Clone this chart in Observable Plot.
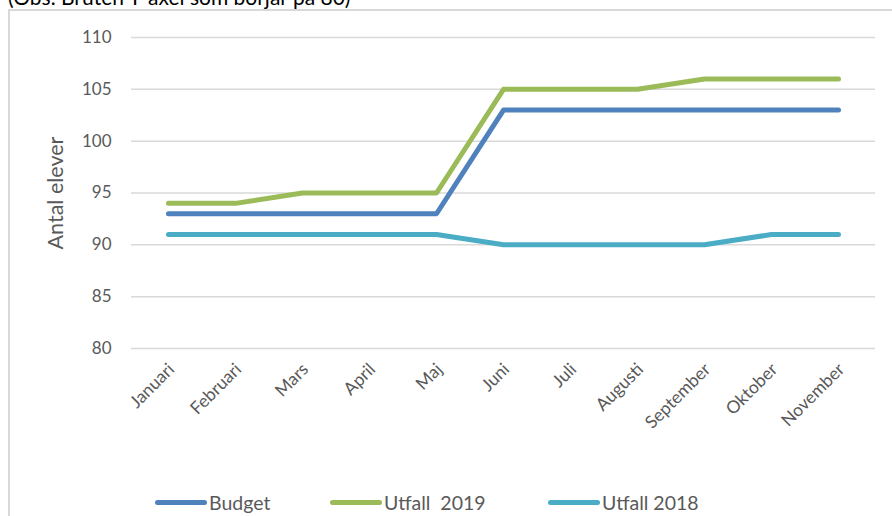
<!DOCTYPE html>
<html>
<head>
<meta charset="utf-8">
<script src="https://cdn.jsdelivr.net/npm/d3@7"></script>
<script src="https://cdn.jsdelivr.net/npm/@observablehq/plot@0.6"></script>
<style>
  html, body { margin: 0; padding: 0; background: #fff; }
  #wrap { position: relative; width: 892px; height: 516px; overflow: hidden; font-family: Lato, "Open Sans", sans-serif; }
  #note { position: absolute; left: 8px; top: -14px; font-size: 21px; line-height: 21px; color: #000; white-space: nowrap; }
  #box { position: absolute; left: 8px; top: 9px; width: 900px; height: 520px; border-left: 2px solid #d9d9d9; border-top: 2px solid #d9d9d9; box-sizing: border-box; }
  #chart { position: absolute; left: 0; top: 0; }
  .leg { position: absolute; top: 491px; display: flex; align-items: center; font-size: 19.5px; color: #595959; white-space: nowrap; }
  .sw { display: inline-block; width: 52px; height: 5px; border-radius: 3px; margin-right: 2px; }
</style>
</head>
<body>
<div id="wrap">
  <div id="note">(Obs. Bruten Y-axel som börjar på 80)</div>
  <div id="box"></div>
  <div id="chart"></div>
  <div id="legend"></div>
</div>
<script>
const months = ["Januari","Februari","Mars","April","Maj","Juni","Juli","Augusti","September","Oktober","November"];
const seriesNames = ["Budget", "Utfall  2019", "Utfall 2018"];
const seriesColors = ["#4f81bd", "#9bbb59", "#4bacc6"];
const budget = [93,93,93,93,93,103,103,103,103,103,103];
const utfall2019 = [94,94,95,95,95,105,105,105,106,106,106];
const utfall2018 = [91,91,91,91,91,90,90,90,90,91,91];
const yTicks = [80,85,90,95,100,105,110];
const yLabel = "Antal elever";

const allSeries = [budget, utfall2019, utfall2018];
const data = [];
allSeries.forEach((vals, si) => vals.forEach((v, i) => data.push({series: seriesNames[si], month: months[i], value: v})));

const chart = Plot.plot({
  width: 892,
  height: 470,
  marginTop: 37,
  marginBottom: 122,
  marginLeft: 131,
  marginRight: 17,
  style: {fontFamily: "Lato, 'Open Sans', sans-serif", background: "transparent"},
  x: {type: "point", domain: months, padding: 0.5},
  y: {domain: [80, 110]},
  color: {domain: seriesNames, range: seriesColors},
  marks: [
    Plot.gridY(yTicks, {stroke: "#d9d9d9", strokeOpacity: 1, strokeWidth: 1.5}),
    Plot.axisY(yTicks, {tickSize: 0, tickPadding: 20, fontSize: 17, fill: "#595959", label: null}),
    Plot.axisX({tickRotate: -45, tickSize: 0, tickPadding: 18, dx: 3, fontSize: 17.5, fill: "#595959", label: null}),
    Plot.text([yLabel], {frameAnchor: "left", textAnchor: "middle", rotate: -90, dx: -75, fontSize: 21.5, fill: "#595959"}),
    Plot.line(data, {x: "month", y: "value", z: "series", stroke: "series", strokeWidth: 5, strokeLinecap: "round", strokeLinejoin: "round"})
  ]
});
document.getElementById("chart").appendChild(chart);

const legendX = [155, 330, 548];
const legend = document.getElementById("legend");
seriesNames.forEach((name, i) => {
  const item = document.createElement("div");
  item.className = "leg";
  item.style.left = legendX[i] + "px";
  const sw = document.createElement("span");
  sw.className = "sw";
  sw.style.background = seriesColors[i];
  const t = document.createElement("span");
  t.textContent = name;
  t.style.whiteSpace = "pre";
  item.appendChild(sw);
  item.appendChild(t);
  legend.appendChild(item);
});
</script>
</body>
</html>
